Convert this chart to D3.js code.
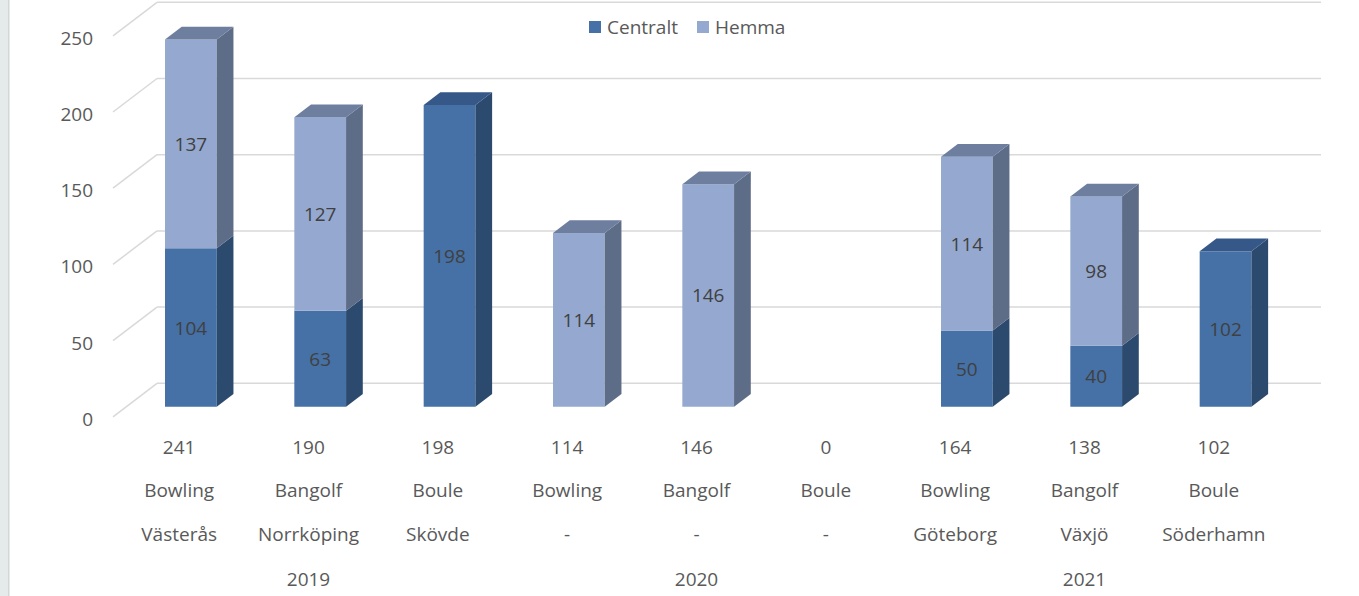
<!DOCTYPE html>
<html>
<head>
<meta charset="utf-8">
<script src="https://cdn.jsdelivr.net/npm/d3@7"></script>
<style>
  body { margin: 0; background: #fff; }
  svg { display: block; font-family: "Open Sans", sans-serif; }
</style>
</head>
<body>
<svg id="output"></svg>
<script>
// chart values
const sports = ["Bowling", "Bangolf", "Boule", "Bowling", "Bangolf", "Boule", "Bowling", "Bangolf", "Boule"];
const cities = ["Västerås", "Norrköping", "Skövde", "-", "-", "-", "Göteborg", "Växjö", "Söderhamn"];
const years = ["2019", "2020", "2021"];
const yearIndex = [0, 0, 0, 1, 1, 1, 2, 2, 2];
const centralt = [104, 63, 198, 0, 0, 0, 50, 40, 102];
const hemma = [137, 127, 0, 114, 146, 0, 114, 98, 0];
const yTicks = [0, 50, 100, 150, 200, 250];
const seriesNames = ["Centralt", "Hemma"];

const width = 1359, height = 596;
const svg = d3.select("#output").attr("width", width).attr("height", height);

// left grey strip of the window
svg.append("rect").attr("x", 0).attr("y", 0).attr("width", 9).attr("height", height).attr("fill", "#e5eaea");
svg.append("rect").attr("x", 8).attr("y", 0).attr("width", 1.5).attr("height", height).attr("fill", "#d3d7d7");

// front plane of the plot, and depth vector to the back wall
const depthX = 44, depthY = -33.5;
const x = d3.scaleBand().domain(d3.range(sports.length)).range([113, 1277]).paddingInner(0.6).paddingOuter(0.3);
const y = d3.scaleLinear().domain([0, 250]).range([416.8, 35.8]);

// bars sit part way into the depth
const barFront = 0.3, barBack = 0.68;

const grid = svg.append("g");
yTicks.forEach(v => {
  const fy = y(v);
  grid.append("line")
    .attr("x1", 113).attr("y1", fy)
    .attr("x2", 113 + depthX).attr("y2", fy + depthY)
    .attr("stroke", "#d9d9d9").attr("stroke-width", 1.5);
  grid.append("line")
    .attr("x1", 113 + depthX).attr("y1", fy + depthY)
    .attr("x2", 1277 + depthX).attr("y2", fy + depthY)
    .attr("stroke", "#d9d9d9").attr("stroke-width", 1.5);
});

svg.append("g").selectAll("text").data(yTicks).join("text")
  .attr("x", 93).attr("y", d => y(d) + 2)
  .attr("text-anchor", "end").attr("dominant-baseline", "central")
  .attr("font-size", 19).attr("fill", "#595959")
  .text(d => d);

const colors = {
  Centralt: { front: "#4571a6", side: "#2c4a6e", top: "#365888" },
  Hemma: { front: "#95a9d0", side: "#5d6c87", top: "#6e7e9f" }
};

const fdx = depthX * barFront, fdy = depthY * barFront;
const bdx = depthX * (barBack - barFront), bdy = depthY * (barBack - barFront);

const stacks = d3.stack().keys(seriesNames)(sports.map((s, i) => ({ Centralt: centralt[i], Hemma: hemma[i] })));

const bars = svg.append("g");
const labels = svg.append("g");
sports.forEach((s, i) => {
  const x0 = x(i) + fdx, x1 = x0 + x.bandwidth();
  let topKey = null;
  stacks.forEach(layer => { if (layer[i][1] > layer[i][0]) topKey = layer.key; });
  stacks.forEach(layer => {
    const [a, b] = layer[i];
    if (b <= a) return;
    const c = colors[layer.key];
    const ya = y(a) + fdy, yb = y(b) + fdy;
    bars.append("rect")
      .attr("x", x0).attr("y", yb).attr("width", x1 - x0).attr("height", ya - yb)
      .attr("fill", c.front);
    bars.append("path")
      .attr("d", `M${x1},${ya}L${x1 + bdx},${ya + bdy}L${x1 + bdx},${yb + bdy}L${x1},${yb}Z`)
      .attr("fill", c.side);
    if (layer.key === topKey) {
      bars.append("path")
        .attr("d", `M${x0},${yb}L${x0 + bdx},${yb + bdy}L${x1 + bdx},${yb + bdy}L${x1},${yb}Z`)
        .attr("fill", c.top);
    }
    labels.append("text")
      .attr("x", (x0 + x1) / 2).attr("y", (ya + yb) / 2)
      .attr("text-anchor", "middle").attr("dominant-baseline", "central")
      .attr("font-size", 19).attr("fill", "#404040")
      .text(b - a);
  });
});

// category axis: total, sport, city, year
const axis = svg.append("g").attr("font-size", 19).attr("fill", "#595959").attr("text-anchor", "middle");
const cx = i => x(i) + x.bandwidth() / 2 + 1.5;
sports.forEach((s, i) => {
  axis.append("text").attr("x", cx(i)).attr("y", 447).attr("dominant-baseline", "central").text(centralt[i] + hemma[i]);
  axis.append("text").attr("x", cx(i)).attr("y", 490).attr("dominant-baseline", "central").text(s);
  axis.append("text").attr("x", cx(i)).attr("y", 534).attr("dominant-baseline", "central").text(cities[i]);
});
years.forEach((yr, k) => {
  const idx = yearIndex.map((g, i) => g === k ? i : -1).filter(i => i >= 0);
  const mid = (cx(idx[0]) + cx(idx[idx.length - 1])) / 2;
  axis.append("text").attr("x", mid).attr("y", 579).attr("dominant-baseline", "central").text(yr);
});

// legend
const legend = svg.append("g").attr("font-size", 19).attr("fill", "#595959");
const legendX = [589, 697];
seriesNames.forEach((n, k) => {
  legend.append("rect").attr("x", legendX[k]).attr("y", 21).attr("width", 12).attr("height", 12).attr("fill", colors[n].front);
  legend.append("text").attr("x", legendX[k] + 18).attr("y", 27).attr("dominant-baseline", "central").text(n);
});
</script>
</body>
</html>
